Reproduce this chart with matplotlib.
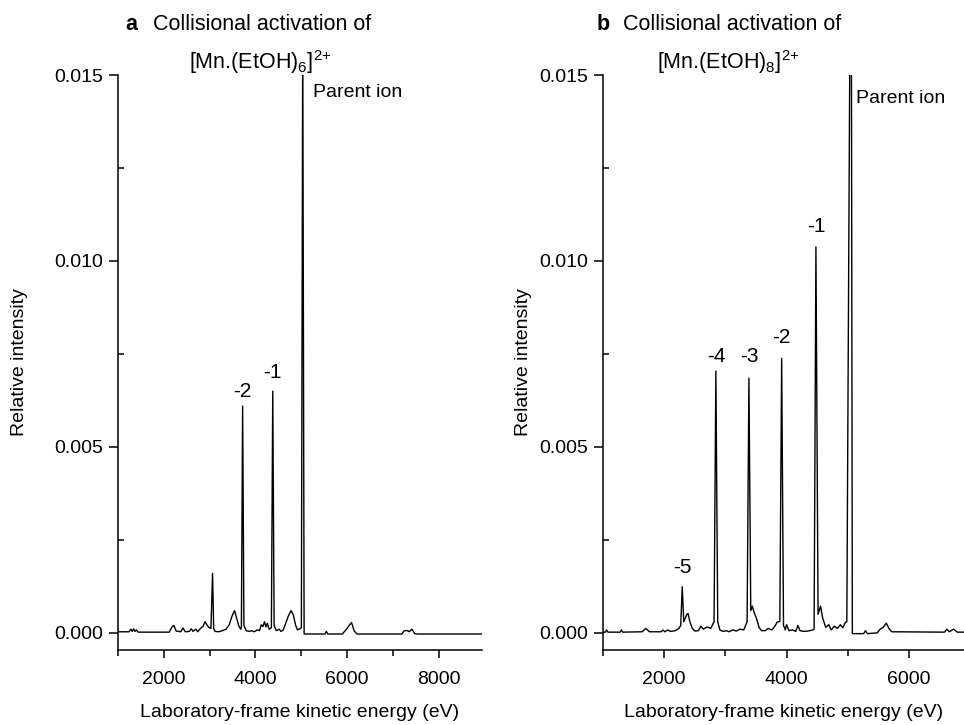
import matplotlib
matplotlib.use('Agg')
import matplotlib.pyplot as plt
from matplotlib.ticker import MultipleLocator, FormatStrFormatter

plt.rcParams['font.family'] = ['Liberation Sans', 'DejaVu Sans']
plt.rcParams['mathtext.default'] = 'regular'

# ---------------- data ----------------
# Panel a: [Mn.(EtOH)6]2+
energy_a = [1000, 1240, 1280, 1310, 1340, 1370, 1400, 1440, 2120, 2180, 2220, 2270,
            2370, 2420, 2470, 2560, 2600, 2640, 2700, 2740, 2800, 2860, 2900, 2940,
            2980, 3030, 3065, 3090, 3120, 3200, 3280, 3360, 3430, 3490, 3545, 3590,
            3640, 3680, 3695, 3722, 3750, 3800, 3860, 3920, 3980, 4040, 4090, 4130,
            4165, 4200, 4230, 4260, 4300, 4335, 4350, 4380, 4410, 4460, 4520, 4560,
            4610, 4660, 4720, 4780, 4830, 4880, 4920, 4960, 4990, 5005, 5035, 5065,
            5200, 5520, 5550, 5580, 5900, 5990, 6060, 6100, 6160, 6220, 7200, 7250,
            7330, 7360, 7420, 7480, 7550, 9000]
intensity_a = [0.00003, 0.00003, 0.00010, 0.00004, 0.00011, 0.00004, 0.00008, 0.00002,
               0.00002, 0.00016, 0.00020, 0.00005, 0.00003, 0.00013, 0.00003, 0.00004,
               0.00011, 0.00004, 0.00010, 0.00003, 0.00012, 0.00018, 0.00030, 0.00022,
               0.00015, 0.00012, 0.00160, 0.00012, 0.00004, 0.00003, 0.00006, 0.00010,
               0.00022, 0.00045, 0.00060, 0.00040, 0.00018, 0.00010, 0.00015, 0.00610,
               0.00020, 0.00006, 0.00004, 0.00006, 0.00003, 0.00008, 0.00006, 0.00022,
               0.00017, 0.00030, 0.00016, 0.00026, 0.00010, 0.00012, 0.00015, 0.00650,
               0.00020, 0.00006, 0.00010, 0.00004, 0.00008, 0.00025, 0.00045, 0.00060,
               0.00048, 0.00020, 0.00008, 0.00010, 0.00012, 0.00015, 0.01620, -0.00003,
               -0.00003, -0.00003, 0.00004, -0.00003, -0.00003, 0.00010, 0.00022, 0.00028,
               0.00005, -0.00003, -0.00003, 0.00006, 0.00006, 0.00003, 0.00010, -0.00002,
               -0.00003, -0.00003]

# Panel b: [Mn.(EtOH)8]2+
energy_b = [1000, 1040, 1060, 1080, 1280, 1300, 1320, 1640, 1700, 1760, 1950, 1980,
            2010, 2060, 2100, 2180, 2240, 2270, 2295, 2320, 2370, 2390, 2420, 2460,
            2500, 2560, 2600, 2640, 2700, 2760, 2815, 2845, 2875, 2910, 2960, 3020,
            3060, 3120, 3180, 3240, 3300, 3355, 3385, 3415, 3440, 3470, 3510, 3550,
            3590, 3650, 3700, 3760, 3810, 3850, 3890, 3920, 3950, 3980, 4000, 4040,
            4100, 4150, 4185, 4220, 4280, 4350, 4430, 4450, 4480, 4515, 4555, 4590,
            4640, 4690, 4730, 4780, 4830, 4880, 4920, 4960, 4985, 5035, 5060, 5075,
            5260, 5290, 5320, 5480, 5530, 5580, 5630, 5680, 5720, 6580, 6620, 6660,
            6730, 6790, 6900]
intensity_b = [0.00002, 0.00002, 0.00008, 0.00002, 0.00002, 0.00008, 0.00002, 0.00003,
               0.00012, 0.00003, 0.00003, 0.00008, 0.00003, 0.00008, 0.00004, 0.00006,
               0.00012, 0.00020, 0.00124, 0.00030, 0.00050, 0.00052, 0.00030, 0.00012,
               0.00005, 0.00006, 0.00018, 0.00010, 0.00016, 0.00012, 0.00030, 0.00704,
               0.00030, 0.00008, 0.00004, 0.00006, 0.00003, 0.00008, 0.00005, 0.00010,
               0.00008, 0.00030, 0.00685, 0.00060, 0.00072, 0.00055, 0.00038, 0.00015,
               0.00006, 0.00006, 0.00012, 0.00008, 0.00018, 0.00030, 0.00030, 0.00738,
               0.00020, 0.00008, 0.00022, 0.00006, 0.00008, 0.00004, 0.00020, 0.00006,
               0.00004, 0.00005, 0.00008, 0.00010, 0.01038, 0.00050, 0.00072, 0.00040,
               0.00015, 0.00022, 0.00008, 0.00018, 0.00012, 0.00022, 0.00014, 0.00028,
               0.00030, 0.01600, 0.01600, -0.00002, -0.00002, 0.00006, -0.00002, 0.00000,
               0.00010, 0.00015, 0.00026, 0.00010, 0.00003, 0.00002, 0.00010, 0.00003,
               0.00010, 0.00002, 0.00002]

labels_a = ['-2', '-1']
label_pos_a = [(3722, 0.0065), (4380, 0.0070)]
labels_b = ['-5', '-4', '-3', '-2', '-1']
label_pos_b = [(2295, 0.00175), (2845, 0.00743), (3385, 0.00743), (3920, 0.00793), (4480, 0.01094)]

xlim_a = (1000, 8950)
xlim_b = (1000, 6900)
ylim = (-0.00046, 0.015)

# ---------------- figure ----------------
W, H = 964, 725
fig = plt.figure(figsize=(W / 100, H / 100), dpi=100)


def px_axes(l, r, t, b):
    return [l / W, 1 - b / H, (r - l) / W, (b - t) / H]


ax_a = fig.add_axes(px_axes(118, 482, 75, 650))
ax_b = fig.add_axes(px_axes(603, 964, 75, 650))

for ax, e, inten, xl in [(ax_a, energy_a, intensity_a, xlim_a),
                         (ax_b, energy_b, intensity_b, xlim_b)]:
    ax.plot(e, inten, color='black', lw=1.0)
    ax.set_xlim(*xl)
    ax.set_ylim(*ylim)
    for s in ['top', 'right']:
        ax.spines[s].set_visible(False)
    for s in ['left', 'bottom']:
        ax.spines[s].set_linewidth(1.1)
    ax.xaxis.set_major_locator(MultipleLocator(2000))
    ax.xaxis.set_minor_locator(MultipleLocator(1000))
    ax.yaxis.set_major_locator(MultipleLocator(0.005))
    ax.yaxis.set_minor_locator(MultipleLocator(0.0025))
    ax.yaxis.set_major_formatter(FormatStrFormatter('%.3f'))
    ax.tick_params(axis='x', which='major', direction='out', length=6, width=1.1,
                   labelsize=14, pad=9)
    ax.tick_params(axis='x', which='minor', direction='out', length=4, width=1.1)
    ax.tick_params(axis='y', which='major', direction='out', length=6.5, width=1.1,
                   labelsize=14, pad=4)
    ax.tick_params(axis='y', which='minor', direction='in', length=4.5, width=1.1)
    ax.set_xlabel('Laboratory-frame kinetic energy (eV)', fontsize=14)
    ax.xaxis.set_label_coords(0.5, -0.108)
    ax.xaxis.label.set_va('center')
    ax.set_ylabel('Relative intensity', fontsize=14)

ax_a.yaxis.set_label_coords((20 - 118) / 364, 0.5)
ax_b.yaxis.set_label_coords((524 - 603) / 361, 0.5)
ax_a.yaxis.label.set_va('center')
ax_b.yaxis.label.set_va('center')

for lab, (x, y) in zip(labels_a, label_pos_a):
    ax_a.text(x, y, lab, fontsize=15, ha='center', va='center')
for lab, (x, y) in zip(labels_b, label_pos_b):
    ax_b.text(x, y, lab, fontsize=15, ha='center', va='center')

ax_a.text(5260, 0.01452, 'Parent ion', fontsize=14, ha='left', va='center')
ax_b.text(5140, 0.01438, 'Parent ion', fontsize=14, ha='left', va='center')

# titles
def ftext(x, y, s, **kw):
    fig.text(x / W, 1 - y / H, s, **kw)

ftext(131, 25, 'a', fontsize=15.5, fontweight='bold', ha='center', va='center')
ftext(153, 25, 'Collisional activation of', fontsize=15.5, ha='left', va='center')
ftext(260, 62, '[Mn.(EtOH)$_{6}$]$^{2{+}}$', fontsize=15.5, ha='center', va='center')

ftext(603, 25, 'b', fontsize=15.5, fontweight='bold', ha='center', va='center')
ftext(623, 25, 'Collisional activation of', fontsize=15.5, ha='left', va='center')
ftext(728, 62, '[Mn.(EtOH)$_{8}$]$^{2{+}}$', fontsize=15.5, ha='center', va='center')

fig.savefig('out.png', dpi=100)
